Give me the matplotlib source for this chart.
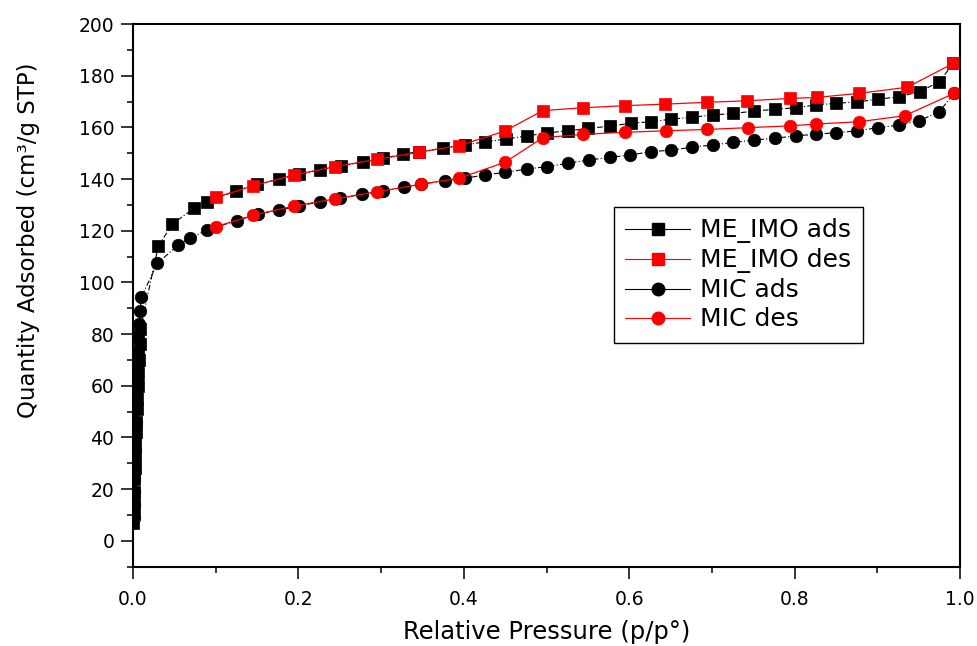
import numpy as np
import matplotlib.pyplot as plt
from matplotlib.ticker import MultipleLocator
from matplotlib.lines import Line2D

# N2 isotherms, ME_IMO and MIC (adsorption / desorption branches)
me_ads_p = [0.0005, 0.0007, 0.0010, 0.0013, 0.0016, 0.0020, 0.0024, 0.0028, 0.0033,
            0.0038, 0.0043, 0.0049, 0.0055, 0.0062, 0.0070, 0.0079, 0.0090,
            0.0306, 0.0476, 0.0738, 0.090, 0.1245, 0.1495, 0.1766, 0.201, 0.226,
            0.2515, 0.2777, 0.3027, 0.326, 0.346, 0.375, 0.401, 0.4256, 0.451,
            0.4768, 0.501, 0.526, 0.5506, 0.577, 0.602, 0.626, 0.651, 0.6756,
            0.701, 0.726, 0.751, 0.776, 0.802, 0.826, 0.850, 0.876, 0.901,
            0.9266, 0.9516, 0.975, 0.992]
me_ads_q = [7, 11, 15, 19, 24, 28, 33, 37, 42, 46, 51, 55, 60, 65, 70, 76, 82,
            114.1, 122.6, 128.7, 131.2, 135.5, 138.0, 139.9, 141.8, 143.5,
            145.2, 146.5, 148.0, 149.7, 150.6, 151.9, 153.2, 154.4, 155.5,
            156.7, 157.9, 158.7, 159.6, 160.5, 161.6, 162.2, 163.2, 163.9,
            164.8, 165.4, 166.3, 167.0, 167.6, 168.7, 169.3, 169.9, 170.9,
            171.9, 173.8, 177.7, 184.8]

me_des_p = [0.992, 0.936, 0.878, 0.8275, 0.795, 0.742, 0.6937, 0.643, 0.595,
            0.5445, 0.4954, 0.4498, 0.394, 0.346, 0.2947, 0.244, 0.1947,
            0.1455, 0.1004]
me_des_q = [184.8, 175.5, 173.2, 171.6, 171.2, 170.3, 169.7, 169.0, 168.4,
            167.6, 166.5, 158.6, 152.9, 150.4, 147.6, 144.8, 141.6,
            137.4, 132.9]

mic_ads_p = [0.0006, 0.0008, 0.0011, 0.0014, 0.0018, 0.0022, 0.0026, 0.0031,
             0.0036, 0.0041, 0.0047, 0.0053, 0.0059, 0.0066, 0.0073, 0.0085,
             0.0100,
             0.0294, 0.0548, 0.0689, 0.0899, 0.1254, 0.1515, 0.1766, 0.201,
             0.226, 0.250, 0.2765, 0.3027, 0.3277, 0.348, 0.377, 0.401, 0.4256,
             0.4498, 0.4768, 0.500, 0.526, 0.5514, 0.577, 0.601, 0.626, 0.651,
             0.6756, 0.701, 0.726, 0.751, 0.776, 0.802, 0.826, 0.850, 0.876,
             0.901, 0.9266, 0.951, 0.975, 0.993]
mic_ads_q = [9, 14, 19, 24, 29, 35, 40, 46, 51, 57, 62, 68, 73, 79, 84, 89, 94.2,
             107.4, 114.5, 117.1, 120.3, 123.9, 126.5, 128.0, 129.6,
             131.2, 132.5, 134.2, 135.5, 136.8, 138.0, 139.4, 140.3, 141.6,
             142.6, 143.9, 144.8, 146.1, 147.4, 148.4, 149.3, 150.6, 151.2,
             152.3, 153.2, 154.2, 155.1, 155.8, 156.7, 157.4, 157.9, 158.7,
             159.9, 160.9, 162.6, 166.1, 173.2]

mic_des_p = [0.993, 0.933, 0.878, 0.826, 0.795, 0.744, 0.6945, 0.645, 0.595,
             0.5438, 0.4954, 0.4498, 0.394, 0.348, 0.2954, 0.244, 0.1947,
             0.1455, 0.1004]
mic_des_q = [173.2, 164.5, 162.2, 161.3, 160.6, 159.9, 159.2, 158.7, 158.1,
             157.3, 156.0, 146.5, 140.3, 138.0, 135.1, 132.3, 129.6,
             126.0, 121.6]

labels = ['ME_IMO ads', 'ME_IMO des', 'MIC ads', 'MIC des']

plt.rcParams['font.family'] = 'DejaVu Sans'

fig = plt.figure(figsize=(9.78, 6.46), dpi=100)
ax = fig.add_axes([0.136, 0.1228, 0.8456, 0.84])

dashdot = (0, (5, 2, 1, 2))
sq_ms, ci_ms = 8.5, 9
ax.plot(me_ads_p, me_ads_q, color='black', ls=dashdot, lw=0.8,
        marker='s', ms=sq_ms, mew=0.5)
ax.plot(me_des_p, me_des_q, color='red', ls='-', lw=0.9,
        marker='s', ms=sq_ms, mew=0.5)
ax.plot(mic_ads_p, mic_ads_q, color='black', ls=dashdot, lw=0.8,
        marker='o', ms=ci_ms, mew=0.5)
ax.plot(mic_des_p, mic_des_q, color='red', ls='-', lw=0.9,
        marker='o', ms=ci_ms, mew=0.5)

ax.set_xlim(0, 1.0)
ax.set_ylim(-10, 200)
ax.xaxis.set_major_locator(MultipleLocator(0.2))
ax.xaxis.set_minor_locator(MultipleLocator(0.1))
ax.yaxis.set_minor_locator(MultipleLocator(10))
ax.set_yticks(np.arange(0, 201, 20))

for s in ax.spines.values():
    s.set_linewidth(1.5)
ax.tick_params(which='major', direction='out', length=8.5, width=1.1,
               labelsize=13.5, top=False, right=False)
ax.tick_params(which='minor', direction='out', length=4.5, width=1.1,
               top=False, right=False)
ax.tick_params(axis='x', pad=8)
ax.tick_params(axis='y', pad=5)

ax.set_xlabel('Relative Pressure (p/p°)', fontsize=17.5, labelpad=8)
ax.set_ylabel('Quantity Adsorbed (cm³/g STP)', fontsize=16.5)
ax.yaxis.set_label_coords(-0.1125, 0.602)

# legend entries: solid line through one marker
handles = [
    Line2D([], [], color='black', lw=0.8, marker='s', ms=sq_ms),
    Line2D([], [], color='red', lw=0.8, marker='s', ms=sq_ms),
    Line2D([], [], color='black', lw=0.8, marker='o', ms=ci_ms),
    Line2D([], [], color='red', lw=0.8, marker='o', ms=ci_ms),
]
leg = ax.legend(handles, labels, loc='upper left', bbox_to_anchor=(0.5816, 0.6628),
                borderaxespad=0, fontsize=18, fancybox=False, framealpha=1,
                edgecolor='black', handlelength=2.6, handletextpad=0.4,
                labelspacing=0.2, borderpad=0.45)
leg.get_frame().set_linewidth(1.0)

fig.savefig('out.png', dpi=100)
